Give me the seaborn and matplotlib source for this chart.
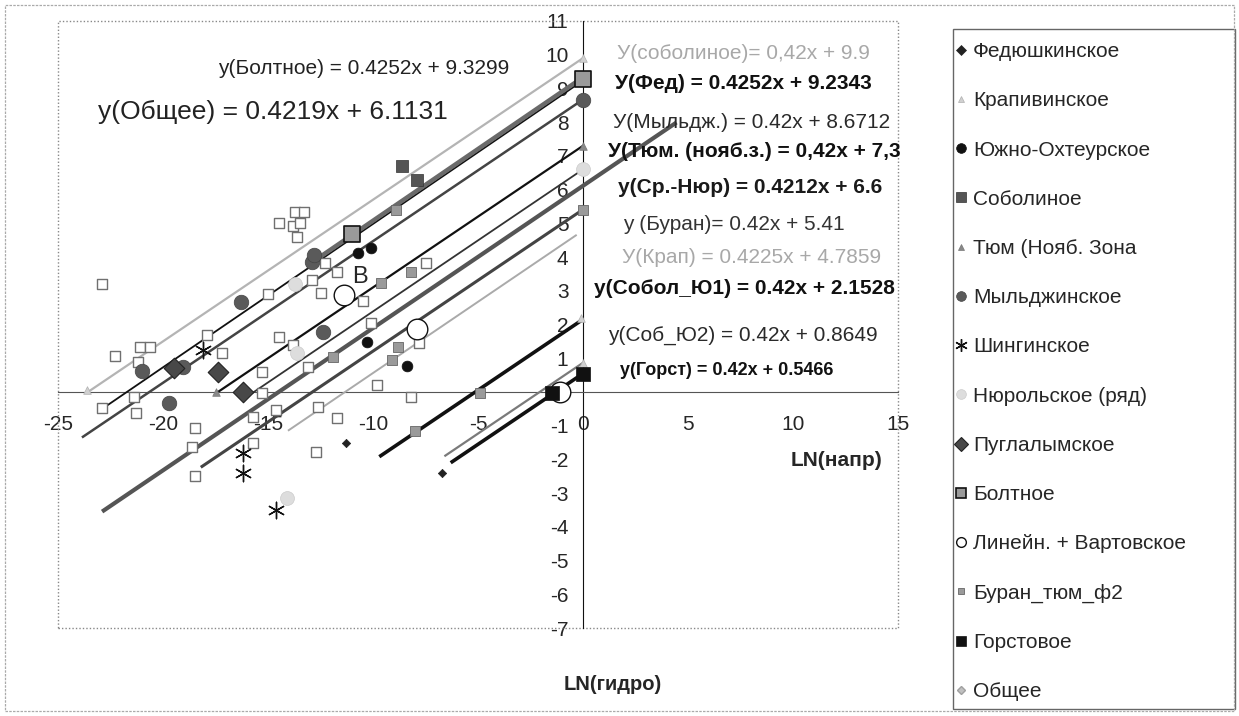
import matplotlib
matplotlib.use("Agg")
import matplotlib.pyplot as plt
from matplotlib.lines import Line2D
from matplotlib.patches import Rectangle
from matplotlib.ticker import MultipleLocator, FuncFormatter
import numpy as np
import seaborn as sns

sns.set_style("white")
plt.rcParams["font.family"] = ["Liberation Sans", "DejaVu Sans"]

# Points per field: x = LN(напр), y = LN(гидро)
fed_x = [-11.3, -6.7]
fed_y = [-1.5, -2.4]
krap_x = [-23.6, 0.0, -0.1, 0.0]
krap_y = [0.05, 9.9, 2.2, 0.86]
ohteur_x = [-10.7, -10.1, -10.3, -8.4]
ohteur_y = [4.12, 4.27, 1.48, 0.77]
sobol_x = [-8.6, -7.9]
sobol_y = [6.7, 6.28]
tyum_x = [-17.5, 0.0]
tyum_y = [0.0, 7.3]
myld_x = [-12.9, -12.8, -16.3, -21.0, -19.05, -19.7, -12.4, 0.0]
myld_y = [3.85, 4.05, 2.67, 0.62, 0.74, -0.33, 1.78, 8.67]
shing_x = [-18.1, -16.2, -16.2, -14.6]
shing_y = [1.24, -1.8, -2.4, -3.5]
nyur_x = [-13.7, -13.6, -14.1, 0.0]
nyur_y = [3.2, 1.15, -3.15, 6.6]
pugl_x = [-19.5, -17.4, -16.2]
pugl_y = [0.71, 0.59, 0.0]
bolt_x = [-11.0, 0.0]
bolt_y = [4.68, 9.28]
vart_x = [-11.4, -7.9, -1.1]
vart_y = [2.87, 1.87, 0.0]
buran_x = [-8.9, -8.2, -9.6, -11.9, -8.8, -9.1, -4.9, -8.0, 0.0]
buran_y = [5.4, 3.56, 3.23, 1.04, 1.33, 0.95, -0.03, -1.16, 5.41]
gorst_x = [-1.5, 0.0]
gorst_y = [-0.03, 0.53]

# Unnamed open squares
open_x = [-13.7, -13.3, -14.5, -13.8, -13.5, -13.6, -22.9, -12.9, -15.0, -17.9,
          -12.5, -12.3, -11.7, -7.5, -10.5, -22.3, -21.1, -20.6, -21.2, -17.2,
          -21.4, -22.9, -21.3, -18.5, -18.6, -18.5, -15.3, -14.5, -13.8, -13.1,
          -15.3, -15.7, -15.7, -14.6, -12.7, -10.1, -7.8, -9.8, -8.2, -11.7, -12.6]
open_y = [5.34, 5.34, 5.01, 4.92, 5.01, 4.59, 3.2, 3.32, 2.9, 1.69,
          2.93, 3.82, 3.56, 3.82, 2.7, 1.07, 1.33, 1.33, 0.89, 1.15,
          -0.15, -0.48, -0.63, -1.07, -1.63, -2.49, 0.59, 1.63, 1.39, 0.74,
          -0.03, -0.74, -1.51, -0.54, -1.78, 2.04, 1.45, 0.2, -0.15, -0.77, -0.45]

# Trend lines: slope, intercept and x range
line_names = ["соболиное", "Фед", "Болтное", "Мыльдж", "Тюм", "Ср.-Нюр",
              "Общее", "Буран", "Крап", "Собол_Ю1", "Соб_Ю2", "Горст"]
line_slope = [0.42, 0.4252, 0.4252, 0.42, 0.42, 0.4212,
              0.4219, 0.42, 0.4225, 0.42, 0.42, 0.42]
line_icpt = [9.9, 9.2343, 9.3299, 8.6712, 7.3, 6.6,
             6.1131, 5.41, 4.7859, 2.1528, 0.8649, 0.5466]
line_x0 = [-23.6, -22.9, -12.9, -23.86, -17.5, -16.0,
           -22.9, -18.2, -14.05, -9.7, -6.6, -6.3]
line_x1 = [0.0, 0.0, 0.0, 0.0, 0.0, 0.0,
           4.45, 0.0, -0.3, 0.0, 0.0, 0.0]

eq_labels = [
    "У(соболиное)= 0,42x + 9.9",
    "У(Фед) = 0.4252x + 9.2343",
    "У(Мыльдж.) = 0.42x + 8.6712",
    "У(Тюм. (нояб.з.) = 0,42x + 7,3",
    "у(Ср.-Нюр) = 0.4212x + 6.6",
    "у (Буран)= 0.42x + 5.41",
    "У(Крап) = 0.4225x + 4.7859",
    "у(Собол_Ю1) = 0.42x + 2.1528",
    "у(Соб_Ю2) = 0.42x + 0.8649",
    "у(Горст) = 0.42x + 0.5466",
    "y(Болтное) = 0.4252x + 9.3299",
    "y(Общее) = 0.4219x + 6.1131",
]

# styles (colour, width) for each trend line
line_style = [("#b4b4b4", 1.6), ("#111111", 1.3), ("#6a6a6a", 3.2), ("#444444", 1.8),
              ("#111111", 1.6), ("#333333", 1.3), ("#555555", 3.0), ("#444444", 2.2),
              ("#aaaaaa", 1.4), ("#111111", 2.6), ("#7a7a7a", 1.6), ("#111111", 2.6)]

fig = plt.figure(figsize=(12.39, 7.16), dpi=100)
ax = fig.add_axes([58 / 1239, 88 / 716, 840 / 1239, 607 / 716])

for i in range(len(line_names)):
    xs = np.array([line_x0[i], line_x1[i]])
    ys = line_slope[i] * xs + line_icpt[i]
    col, lw = line_style[i]
    ax.plot(xs, ys, color=col, lw=lw, zorder=2, solid_capstyle="butt")

# name, x, y, marker, face, edge, size, edge width
series = [
    ("Федюшкинское", fed_x, fed_y, "D", "#222222", "#222222", 18, 0.5),
    ("Крапивинское", krap_x, krap_y, "^", "#d0d0d0", "#b0b0b0", 30, 0.5),
    ("Южно-Охтеурское", ohteur_x, ohteur_y, "o", "#111111", "#111111", 60, 0.5),
    ("Соболиное", sobol_x, sobol_y, "s", "#555555", "#333333", 80, 0.5),
    ("Тюм (Нояб. Зона", tyum_x, tyum_y, "^", "#888888", "#777777", 30, 0.5),
    ("Мыльджинское", myld_x, myld_y, "o", "#5a5a5a", "#444444", 110, 0.5),
    ("Шингинское", shing_x, shing_y, (6, 2, 0), "#111111", "#111111", 140, 1.0),
    ("Нюрольское (ряд)", nyur_x, nyur_y, "o", "#dddddd", "#cccccc", 100, 0.5),
    ("Пуглалымское", pugl_x, pugl_y, "D", "#484848", "#222222", 110, 0.8),
    ("Болтное", bolt_x, bolt_y, "s", "#9a9a9a", "#111111", 130, 1.2),
    ("Линейн. + Вартовское", vart_x, vart_y, "o", "white", "#111111", 220, 1.0),
    ("Буран_тюм_ф2", buran_x, buran_y, "s", "#9a9a9a", "#666666", 45, 0.6),
    ("Горстовое", gorst_x, gorst_y, "s", "#111111", "#111111", 110, 0.5),
]

sns.scatterplot(x=open_x, y=open_y, marker="s", s=42, color="white",
                edgecolor="#707070", linewidth=1.0, ax=ax, legend=False, zorder=3)
for name, xs, ys, mk, fc, ec, sz, ew in series:
    if isinstance(mk, tuple):
        sns.scatterplot(x=xs, y=ys, marker=mk, s=sz, color=fc, linewidth=ew,
                        ax=ax, legend=False, zorder=4)
    else:
        sns.scatterplot(x=xs, y=ys, marker=mk, s=sz, color=fc, edgecolor=ec,
                        linewidth=ew, ax=ax, legend=False, zorder=4)

ax.set_xlim(-25, 15)
ax.set_ylim(-7, 11)
ax.spines["left"].set_position(("data", 0))
ax.spines["bottom"].set_position(("data", 0))
ax.spines["top"].set_visible(False)
ax.spines["right"].set_visible(False)
ax.spines["left"].set_color("#111111")
ax.spines["bottom"].set_color("#555555")
ax.spines["left"].set_zorder(1.5)
ax.spines["bottom"].set_zorder(1.5)
ax.add_patch(Rectangle((0, 0), 1, 1, transform=ax.transAxes, fill=False,
                       ls=(0, (1, 1.5)), ec="#888888", lw=1.0, clip_on=False))

ax.set_xticks(range(-25, 16, 5))
ax.set_yticks(range(-7, 12))
ax.xaxis.set_minor_locator(MultipleLocator(1))
ax.xaxis.set_major_formatter(FuncFormatter(lambda v, p: f"{v:g}"))
ax.yaxis.set_major_formatter(FuncFormatter(lambda v, p: "" if v == 0 else f"{v:g}"))
ax.tick_params(axis="both", which="major", direction="inout", length=9, width=0.9,
               labelsize=15, color="#333333")
ax.tick_params(axis="x", which="major", pad=12)
ax.tick_params(axis="y", which="major", pad=6)
ax.tick_params(axis="x", which="minor", direction="out", length=4, width=0.8,
               color="#555555")
ax.set_xlabel("")
ax.set_ylabel("")

# equation labels (positions in data units)
eq_pos = [(1.62, 10.05), (1.52, 9.16), (1.43, 8.0), (1.19, 7.12), (1.67, 6.05),
          (1.9, 4.98), (1.86, 4.0), (0.52, 3.08), (1.19, 1.69), (1.76, 0.65),
          (-17.38, 9.6), (-23.1, 8.3)]
eq_color = ["#a8a8a8", "#111111", "#2a2a2a", "#111111", "#1a1a1a", "#333333",
            "#a8a8a8", "#111111", "#2a2a2a", "#111111", "#222222", "#222222"]
eq_weight = ["normal", "bold", "normal", "bold", "bold", "normal",
             "normal", "bold", "normal", "bold", "normal", "normal"]
eq_size = [15, 15, 15, 15, 15, 15, 15, 15, 15, 13, 15, 19]
for lab, (tx, ty), c, w, fs in zip(eq_labels, eq_pos, eq_color, eq_weight, eq_size):
    ax.text(tx, ty, lab, color=c, fontweight=w, fontsize=fs, ha="left", va="center",
            zorder=5)
ax.text(-10.6, 3.4, "B", fontsize=17, ha="center", va="center", zorder=5)

fig.text(882 / 1239, 1 - 460 / 716, "LN(напр)", ha="right", va="center",
         fontsize=15, fontweight="bold")
fig.text(613 / 1239, 1 - 684 / 716, "LN(гидро)", ha="center", va="center",
         fontsize=14.5, fontweight="bold")

# legend in its own box
fig.add_artist(Rectangle((953 / 1239, 1 - 709 / 716), 282 / 1239, 680 / 716,
                         transform=fig.transFigure, fill=False, ec="#666666", lw=1.0))
fig.add_artist(Rectangle((5 / 1239, 1 - 711 / 716), 1229 / 1239, 706 / 716,
                         transform=fig.transFigure, fill=False, ec="#aaaaaa", lw=0.9,
                         ls=(0, (2, 1))))
handles = []
for name, xs, ys, mk, fc, ec, sz, ew in series:
    ms = 9 if mk == (6, 2, 0) else (5 if sz < 50 else 7)
    handles.append(Line2D([], [], ls="none", marker=mk, markersize=ms,
                          markerfacecolor=fc, markeredgecolor=ec if mk != (6, 2, 0) else fc,
                          markeredgewidth=ew, label=name))
handles.append(Line2D([], [], ls="none", marker="D", markersize=4,
                      markerfacecolor="#c0c0c0", markeredgecolor="#a0a0a0",
                      label="Общее"))
fig.legend(handles=handles, loc="upper left",
           bbox_to_anchor=(950 / 1239, 1 - 38 / 716), frameon=False,
           fontsize=15, handlelength=0.7, handletextpad=0.2, labelspacing=1.45,
           borderaxespad=0, borderpad=0.2)

fig.savefig("out.png", dpi=100)
